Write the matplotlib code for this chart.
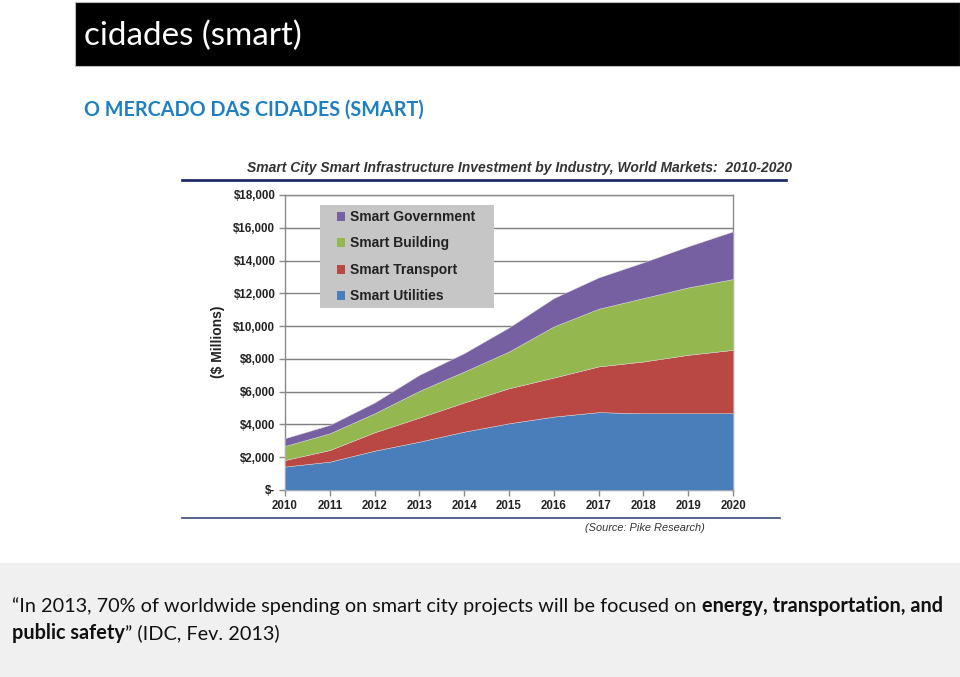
import matplotlib
matplotlib.use('Agg')
import matplotlib.pyplot as plt
from matplotlib.patches import Rectangle, Patch
from matplotlib.lines import Line2D

# ---------------- data ----------------
years = list(range(2010, 2021))
series_names = ["Smart Utilities", "Smart Transport", "Smart Building", "Smart Government"]
utilities = [1430, 1730, 2400, 2950, 3560, 4070, 4480, 4750, 4680, 4680, 4680]
transport = [400, 710, 1120, 1470, 1780, 2140, 2380, 2790, 3160, 3570, 3870]
building = [860, 1020, 1160, 1630, 1890, 2240, 3120, 3520, 3870, 4110, 4320]
government = [470, 510, 660, 980, 1120, 1470, 1730, 1910, 2180, 2510, 2910]
colors = ["#4a7ebb", "#b94744", "#94b84f", "#7660a2"]
yticks = list(range(0, 18001, 2000))
ytick_labels = ["$-"] + ["${:,}".format(v) for v in yticks[1:]]

W, H = 960, 677
fig = plt.figure(figsize=(W / 100, H / 100), dpi=100)
fig.patch.set_facecolor("white")
fig.canvas.draw()
renderer = fig.canvas.get_renderer()

def fx(x):
    return x / W

def fy(y):
    return 1 - y / H

def fit_text(x, y, s, target_w, size0, **kw):
    t = fig.text(fx(x), fy(y), s, fontsize=size0, **kw)
    w = t.get_window_extent(renderer).width
    t.set_fontsize(size0 * target_w / w)
    return t

# header bar
fig.patches.append(Rectangle((fx(75), fy(66)), fx(960) - fx(75), fy(2) - fy(66),
                             transform=fig.transFigure, facecolor="black",
                             edgecolor="#bbbbbb", lw=0.8, zorder=0))
fit_text(84, 36, "cidades (smart)", 218, 20, color="white", family="Lato",
         va="center", ha="left")
fit_text(84, 110, "O MERCADO DAS CIDADES (SMART)", 338, 12, color="#1f7fc4",
         family="Lato", weight="bold", va="center", ha="left")

# bottom gray panel
fig.patches.append(Rectangle((0, 0), 1, fy(563), transform=fig.transFigure,
                             facecolor="#f0f0f0", edgecolor="none", zorder=0))

# chart title and rules
t = fit_text(247, 168, "Smart City Smart Infrastructure Investment by Industry, World Markets:  2010-2020",
             544, 9, family="Liberation Sans", weight="bold", style="italic",
             color="#333333", ha="left", va="center")
fig.add_artist(Line2D([fx(182), fx(786)], [fy(180), fy(180)], transform=fig.transFigure,
                      color="#1f2a6b", lw=2))
fig.add_artist(Line2D([fx(182), fx(780)], [fy(518), fy(518)], transform=fig.transFigure,
                      color="#3a4a7a", lw=1.2))
fig.text(fx(645), fy(528), "(Source: Pike Research)", fontsize=7.9, family="Liberation Sans",
         style="italic", color="#333333", ha="center", va="center")

# axes
ax = fig.add_axes([fx(285), fy(490), fx(733) - fx(285), fy(195) - fy(490)])
ax.stackplot(years, utilities, transport, building, government, colors=colors,
             edgecolor="#dddddd", linewidth=0.3, zorder=3)
ax.set_xlim(2010, 2020)
ax.set_ylim(0, 18000)
ax.set_yticks(yticks)
ax.set_yticklabels(ytick_labels)
ax.set_xticks(years)
ax.set_xticklabels([str(y) for y in years])
for lab in ax.get_yticklabels() + ax.get_xticklabels():
    lab.set_family("Liberation Sans")
    lab.set_weight("bold")
    lab.set_fontsize(8.3)
    lab.set_color("#222222")
ax.yaxis.grid(True, color="#7f7f7f", lw=1, zorder=1)
ax.set_axisbelow(True)
for s in ax.spines.values():
    s.set_color("#8a8a8a")
    s.set_linewidth(1)
ax.tick_params(axis="both", color="#8a8a8a", length=4, width=1, pad=3)
fig.text(fx(218), fy(342), "($ Millions)", rotation=90, fontsize=10, family="Liberation Sans",
         weight="bold", color="#222222", ha="center", va="center")

# legend: gray box + frameless legend
leg_box = Rectangle((fx(320), fy(308)), fx(494) - fx(320), fy(205) - fy(308),
                    transform=fig.transFigure, facecolor="#c6c6c6", edgecolor="none", zorder=5)
fig.add_artist(leg_box)
handles = [Patch(facecolor=c, edgecolor="none") for c in colors][::-1]
leg = fig.legend(handles, series_names[::-1], loc="upper left",
                 bbox_to_anchor=(fx(337), fy(210)), bbox_transform=fig.transFigure,
                 prop={"family": "Liberation Sans", "weight": "bold", "size": 10},
                 frameon=False, handlelength=0.6, handleheight=0.6, handletextpad=0.3,
                 labelspacing=0.9, borderpad=0, borderaxespad=0)
for tt in leg.get_texts():
    tt.set_color("#222222")
leg.set_zorder(10)

# quote with mixed bold
def place_segments(x0, y, segs, size):
    x = x0
    for txt, bold in segs:
        t = fig.text(fx(x), fy(y), txt, fontsize=size, family="Lato",
                     weight="bold" if bold else "normal", color="#111111",
                     ha="left", va="baseline")
        x = t.get_window_extent(renderer).x1
    return x

def space_w(size):
    w = []
    for s in ("a a", "aa"):
        t = fig.text(0, 0, s, fontsize=size, family="Lato")
        w.append(t.get_window_extent(renderer).width)
        t.remove()
    return w[0] - w[1]

line1a = "\u201cIn 2013, 70% of worldwide spending on smart city projects will be focused on"
line1b = "energy, transportation, and"
# measure at reference size and scale to fit 933 px
s0 = 12.5
ta = fig.text(0, 0, line1a, fontsize=s0, family="Lato")
tb = fig.text(0, 0, line1b, fontsize=s0, family="Lato", weight="bold")
w0 = ta.get_window_extent(renderer).width + tb.get_window_extent(renderer).width + space_w(s0)
ta.remove(); tb.remove()
sz = s0 * 933 / w0

x = place_segments(12, 612, [(line1a, False)], sz)
place_segments(x + space_w(sz), 612, [(line1b, True)], sz)
x = place_segments(12, 639, [("public safety", True)], sz)
place_segments(x, 639, [("\u201d (IDC, Fev. 2013)", False)], sz)

fig.savefig("out.png", dpi=100)
